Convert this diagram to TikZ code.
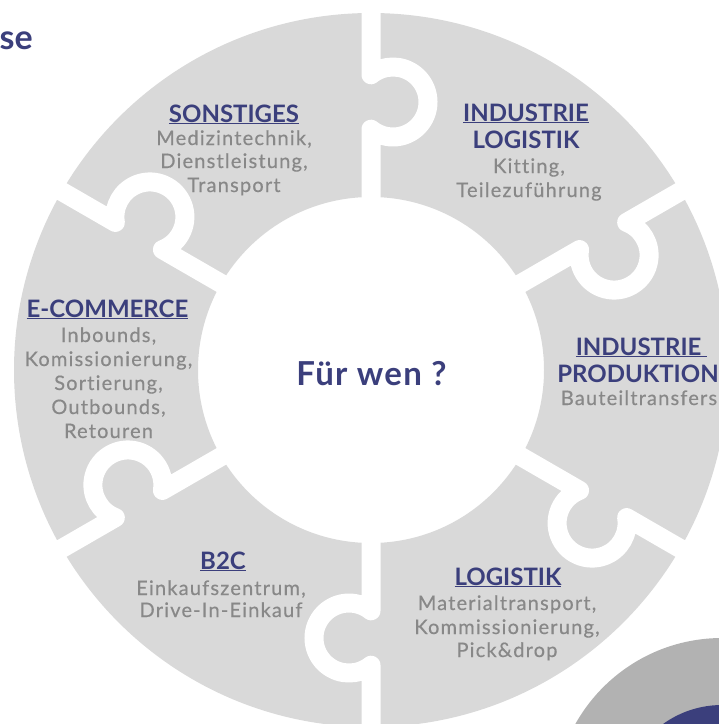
\documentclass[tikz,border=0pt]{standalone}
\usepackage{fontspec}
\setmainfont{Lato}
\definecolor{navy}{HTML}{3B3F7C}
\definecolor{txtgray}{HTML}{888888}
\definecolor{piecegray}{HTML}{D9D9D9}
\definecolor{decogray}{HTML}{B2B2B2}
\newcommand\ttlfont{\bfseries\fontsize{24}{28}\selectfont}
\newcommand\bdyfont{\fontsize{20}{23}\selectfont\addfontfeatures{LetterSpace=6,FakeBold=0.4,Ligatures=NoCommon}}
\begin{document}
\begin{tikzpicture}[x=1pt,y=1pt,
  title/.style={font=\ttlfont, text=navy, anchor=base, inner sep=0pt},
  body/.style={font=\bdyfont, text=txtgray, anchor=base, inner sep=0pt},
  seam/.style={draw=white, line width=19pt, line join=round},
]
\useasboundingbox (0,0) rectangle (719,-724);
\clip (0,0) rectangle (719,-724);
\coordinate (C) at (371,-370);
% ring of puzzle pieces
\fill[piecegray, even odd rule] (C) circle[radius=357] (C) circle[radius=173];
\foreach \a in {90,30,-30,-90,-150,150}{
  \begin{scope}[shift={(C)}, rotate=\a]
    \draw[seam] (160,0) -- (240.8,0) arc[start angle=141.03, end angle=398.97, radius=35] -- (368,0);
  \end{scope}
}
% decoration bottom right
\fill[decogray] (722,-806) circle[radius=168];
\fill[navy] (722,-806) circle[radius=101];
% heading fragment
\node[font=\bfseries\fontsize{34}{40}\selectfont, text=navy, anchor=base east, inner sep=0pt] (head) at (33,-49) {se};
% centre
\node[font=\bfseries\fontsize{33}{38}\selectfont\addfontfeatures{LetterSpace=4}, text=navy, anchor=base, inner sep=0pt] (center) at (371.5,-385) {Für wen ?};
% SONSTIGES
\node[title] (s0) at (234,-122) {\underline{SONSTIGES}};
\node[body] (s1) at (234,-145) {Medizintechnik,};
\node[body] (s2) at (234,-168) {Dienstleistung,};
\node[body] (s3) at (234,-192) {Transport};
% INDUSTRIE LOGISTIK
\node[title] (il0) at (526,-121) {\underline{INDUSTRIE}};
\node[title] (il1) at (526,-148) {LOGISTIK};
\node[body] (il2) at (529,-173) {Kitting,};
\node[body] (il3) at (529,-197) {Teilezuführung};
% E-COMMERCE
\node[title] (e0) at (107.5,-317) {\underline{E-COMMERCE}};
\node[body] (e1) at (108.5,-342) {Inbounds,};
\node[body] (e2) at (108.5,-366) {Komissionierung,};
\node[body] (e3) at (108.5,-390) {Sortierung,};
\node[body] (e4) at (108.5,-414) {Outbounds,};
\node[body] (e5) at (108.5,-438) {Retouren};
% INDUSTRIE PRODUKTION
\node[title] (ip0) at (641.5,-355) {\underline{INDUSTRIE\ }};
\node[title] (ip1) at (638,-382) {PRODUKTION};
\node[body] (ip2) at (639,-405) {Bauteiltransfers};
% B2C
\node[title] (b0) at (223,-569) {\underline{B2C}};
\node[body] (b1) at (221,-595) {Einkaufszentrum,};
\node[body] (b2) at (221,-617) {Drive-In-Einkauf};
% LOGISTIK
\node[title] (l0) at (508,-585) {\underline{LOGISTIK}};
\node[body] (l1) at (507,-610) {Materialtransport,};
\node[body] (l2) at (507,-634) {Kommissionierung,};
\node[body] (l3) at (507,-657) {Pick\&drop};
\end{tikzpicture}
\end{document}
